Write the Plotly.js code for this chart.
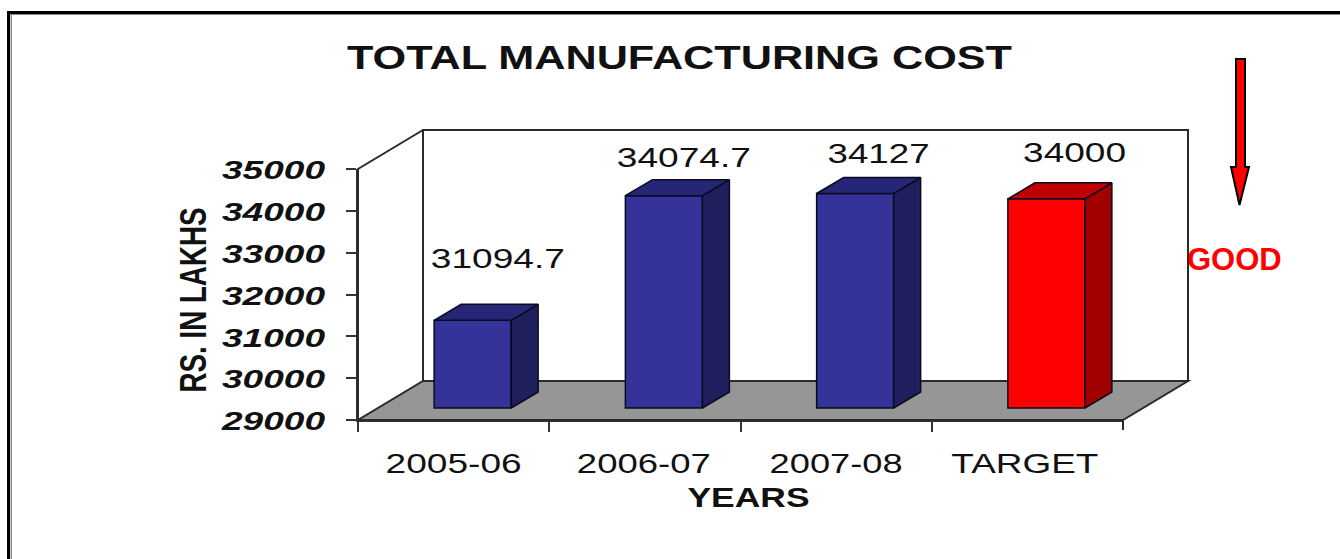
<!DOCTYPE html>
<html>
<head>
<meta charset="utf-8">
<script src="https://cdn.plot.ly/plotly-3.0.1.min.js"></script>
<style>html,body{margin:0;padding:0;background:#fff}#chart{width:1340px;height:559px}</style>
</head>
<body>
<div id="chart"></div>
<script>
const categories = ["2005-06", "2006-07", "2007-08", "TARGET"];
const values = [31094.7, 34074.7, 34127, 34000];
const valueLabels = ["31094.7", "34074.7", "34127", "34000"];
const yTicks = [29000, 30000, 31000, 32000, 33000, 34000, 35000];
const titleText = "TOTAL MANUFACTURING COST";
const xTitleText = "YEARS";
const yTitleText = "RS. IN LAKHS";
const noteText = "GOOD";

const W = 1340, H = 559;
const fx = p => p / W, fy = p => 1 - p / H;
const pxX = 765 / 4, pxY = 251 / 6000;            // pixels per data unit
const floorDX = 65 / pxX, floorDY = 39 / pxY;     // depth of the box
const barDX = 27 / pxX, barDY = 16 / pxY;         // depth of a bar
const barLift = 12 / pxY;                         // bars stand partway back on the floor
const barShift = 19 / pxX, barW = 77 / pxX;
const frontColors = ["#333399", "#333399", "#333399", "#ff0000"];
const sideColors = ["#1f1f5e", "#1f1f5e", "#1f1f5e", "#a00000"];
const topColors = ["#262677", "#262677", "#262677", "#bf0000"];
const labelShift = [[25, 61], [20, 38], [23, 40], [28, 46]];

const L = -0.5, R = 3.5, B = 29000, T = 35000;
const barBase = B + barLift;

const poly = (xs, ys, color) => ({
  type: "scatter", mode: "lines", x: [...xs, xs[0]], y: [...ys, ys[0]], xaxis: "x2", yaxis: "y2",
  fill: "toself", fillcolor: color, line: {color: "#0a0a20", width: 1.5}, hoverinfo: "skip", showlegend: false
});

const traces = [
  {type: "scatter", mode: "markers", x: categories, y: values, marker: {opacity: 0}, hoverinfo: "skip", showlegend: false},
  {type: "bar", x: categories.map((c, i) => i + barShift), y: values.map(v => v - B), base: barBase,
   width: barW, xaxis: "x2", yaxis: "y2", marker: {color: frontColors, line: {color: "#0a0a20", width: 1.5}},
   hoverinfo: "skip", showlegend: false}
];
values.forEach((v, i) => {
  const l = i + barShift - barW / 2, r = i + barShift + barW / 2, t = v + barLift;
  traces.push(poly([r, r + barDX, r + barDX, r], [barBase, barBase + barDY, t + barDY, t], sideColors[i]));
  traces.push(poly([l, r, r + barDX, l + barDX], [t, t, t + barDY, t + barDY], topColors[i]));
});

const pathOf = pts => "M" + pts.map(p => p[0] + "," + p[1]).join(" L") ;
const boxLine = {color: "#2a2a2a", width: 2};
const dataShape = (pts, fill, close) => ({type: "path", xref: "x2", yref: "y2", layer: "below",
  path: pathOf(pts) + (close ? " Z" : ""), fillcolor: fill, line: boxLine});
const pageRect = (x0, y0, x1, y1, c) => ({type: "rect", xref: "paper", yref: "paper", layer: "above",
  x0: fx(x0), x1: fx(x1), y0: fy(y0), y1: fy(y1), fillcolor: c, line: {width: 0}});
const arrowPts = [[1236, 59], [1245, 59], [1245, 167], [1249, 167], [1239.5, 205], [1231, 167], [1236, 167]];

const shapes = [
  dataShape([[L + floorDX, B + floorDY], [R + floorDX, B + floorDY], [R + floorDX, T + floorDY], [L + floorDX, T + floorDY]], "rgba(0,0,0,0)", true),
  dataShape([[L, B], [L, T], [L + floorDX, T + floorDY]], "rgba(0,0,0,0)", false),
  dataShape([[L, B], [R, B], [R + floorDX, B + floorDY], [L + floorDX, B + floorDY]], "#969696", true),
  dataShape([[R, B], [R, B - 10 / pxY]], "rgba(0,0,0,0)", false),
  pageRect(7, 11, 10, H, "#000"), pageRect(7, 11, W, 14, "#000"),
  pageRect(10.5, 14, 12, H, "#8a8a8a"), pageRect(10.5, 14, W, 15, "#8a8a8a"),
  {type: "path", xref: "paper", yref: "paper", layer: "above",
   path: pathOf(arrowPts.map(p => [fx(p[0]), fy(p[1])])) + " Z", fillcolor: "#ff0000", line: {color: "#000", width: 2}}
];

const annotations = values.map((v, i) => ({
  x: i + barShift, y: v + barLift, xref: "x2", yref: "y2", text: valueLabels[i], showarrow: false,
  xshift: labelShift[i][0], yshift: labelShift[i][1], xanchor: "center", yanchor: "middle",
  font: {family: "Liberation Sans", size: 27, color: "#111"}
}));
annotations.push({x: fx(1234.5), y: fy(260), xref: "paper", yref: "paper", text: noteText, showarrow: false,
  xanchor: "center", yanchor: "middle", font: {family: "Liberation Sans", size: 31, weight: "bold", color: "#ff0000"}});

const layout = {
  width: W, height: H, margin: {l: 0, r: 0, t: 0, b: 0}, paper_bgcolor: "#fff", plot_bgcolor: "rgba(0,0,0,0)",
  showlegend: false, hovermode: false,
  title: {text: titleText, x: fx(679.5), xanchor: "center", y: fy(57), yanchor: "middle",
    font: {family: "Liberation Sans", size: 33, weight: "bold", color: "#111"}},
  xaxis: {type: "category", categoryorder: "array", categoryarray: categories, domain: [fx(358), fx(1123)],
    range: [-0.5, 3.5], tickson: "boundaries", ticks: "outside", ticklen: 10, tickwidth: 2, tickcolor: "#333",
    showline: true, linecolor: "#333", linewidth: 2, showgrid: false, zeroline: false, anchor: "y",
    ticklabelstandoff: 17, tickfont: {family: "Liberation Sans", size: 28, color: "#111"},
    title: {text: xTitleText, standoff: 10, font: {family: "Liberation Sans", size: 28, weight: "bold", color: "#111"}}},
  yaxis: {domain: [fy(420), fy(169)], range: [B, T], tickvals: yTicks, ticktext: yTicks.map(String), ticks: "outside",
    ticklen: 10, tickwidth: 2, tickcolor: "#333", showline: true, linecolor: "#333", linewidth: 2, showgrid: false,
    zeroline: false, anchor: "x", ticklabelstandoff: 16,
    tickfont: {family: "Liberation Sans", size: 25, weight: "bold", style: "italic", color: "#111"},
    title: {text: yTitleText, standoff: 10, font: {family: "Liberation Sans", size: 36, weight: "bold", color: "#111"}}},
  xaxis2: {visible: false, domain: [fx(350), fx(1200)], range: [L - 8 / pxX, R + 77 / pxX], anchor: "y2", fixedrange: true},
  yaxis2: {visible: false, domain: [fy(434), fy(120)], range: [B - 14 / pxY, T + 49 / pxY], anchor: "x2", fixedrange: true},
  shapes, annotations
};

function fit(el, len, dx, dy) {
  if (!el) return;
  if (len) { el.setAttribute("textLength", len); el.setAttribute("lengthAdjust", "spacingAndGlyphs"); }
  if (dx) el.setAttribute("dx", dx);
  if (dy) el.setAttribute("dy", dy);
}
const gd = document.getElementById("chart");
Plotly.newPlot(gd, traces, layout, {displayModeBar: false, staticPlot: true}).then(() => {
  fit(gd.querySelector(".gtitle"), 665);
  fit(gd.querySelector(".xtitle"), 122, 8, 0);
  fit(gd.querySelector(".ytitle"), 185, -5.5, -27);
  const xShift = [0, -1, 0, -2.5];
  [136, 134, 133, 147].forEach((w, i) => fit(gd.querySelectorAll(".xtick text")[i], w, xShift[i]));
  gd.querySelectorAll(".ytick text").forEach(t => fit(t, 103, 0, 1.5));
  [134, 134, 102, 103].forEach((w, i) => fit(gd.querySelectorAll(".annotation-text")[i], w));
});
</script>
</body>
</html>
